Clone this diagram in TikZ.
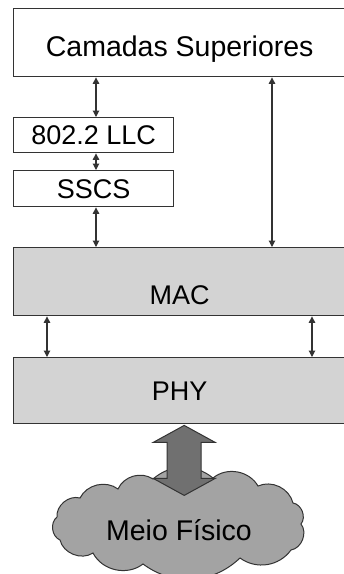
\documentclass[tikz,border=0pt]{standalone}
\usepackage{fontspec}
\setmainfont{Liberation Sans}
\usetikzlibrary{arrows.meta, calc}

\definecolor{edgegray}{HTML}{333333}
\definecolor{layergray}{HTML}{D3D3D3}
\definecolor{arrowgray}{HTML}{707070}
\definecolor{cloudgray}{HTML}{A3A3A3}

\begin{document}
\begin{tikzpicture}[x=1pt, y=-1pt,
    layer/.style={rectangle, draw=edgegray, line width=1.4pt, fill=white, anchor=north west, inner sep=0pt, text depth=0pt, text height=19pt, font=\fontsize{27}{30}\selectfont},
    link/.style={{Triangle[length=6.5pt,width=6.5pt]}-{Triangle[length=6.5pt,width=6.5pt]}, line width=1.1pt, draw=edgegray},
    flow/.style={draw=edgegray, line width=1pt, fill=arrowgray, line join=miter},
    cloudy/.style={draw=edgegray, line width=1pt, fill=cloudgray}
]
\useasboundingbox (0,0) rectangle (344,574);
\clip (0,0) rectangle (344,574);

% layers
\node[layer, minimum width=332pt, minimum height=68pt, text height=28.4pt, font=\fontsize{28.5}{30}\selectfont] (sup) at (13,8) {Camadas Superiores};
\node[layer, minimum width=160pt, minimum height=35pt] (llc) at (13,117) {802.2 LLC};
\node[layer, minimum width=160pt, minimum height=36pt] (sscs) at (13,170) {SSCS};
\node[layer, fill=layergray, minimum width=332pt, minimum height=68pt, text height=46pt] (mac) at (13,247) {MAC};
\node[layer, fill=layergray, minimum width=332pt, minimum height=66pt] (phy) at (13,357) {PHY};

% interfaces
\coordinate (lx) at (96,0);
\coordinate (rx) at (272,0);
\coordinate (ax) at (47,0);
\coordinate (bx) at (312,0);
\draw[link] (sup.south -| lx) -- (llc.north -| lx);
\draw[link] (llc.south -| lx) -- (sscs.north -| lx);
\draw[link] (sscs.south -| lx) -- (mac.north -| lx);
\draw[link] (sup.south -| rx) -- (mac.north -| rx);
\draw[link] (mac.south -| ax) -- (phy.north -| ax);
\draw[link] (mac.south -| bx) -- (phy.north -| bx);

% physical medium
\path[cloudy] (118,489) to[bend left=50] (153,479) to[bend left=40] (213,478)
  to[bend left=50] (258,486) to[bend left=50] (293,503) to[bend left=60] (301,524)
  to[bend left=60] (291,550) to[bend left=45] (240,558) to[bend left=40] (143,564)
  to[bend left=50] (93,553) to[bend left=55] (60,540) to[bend left=60] (57,517)
  to[bend left=55] (80,498) to[bend left=50] cycle;

\coordinate (tip) at ($(phy.south)+(4.5,1)$);
\path[flow] (tip) -- ++(31,17) -- ++(-14,0) -- ++(0,36) -- ++(14,0) -- ++(-31,17)
  -- ++(-31,-17) -- ++(14,0) -- ++(0,-36) -- ++(-14,0) -- cycle;

\node[inner sep=0pt, text depth=0pt, text height=20.4pt, font=\fontsize{28.5}{30}\selectfont] (meio) at (179,530) {Meio Físico};

\end{tikzpicture}
\end{document}
